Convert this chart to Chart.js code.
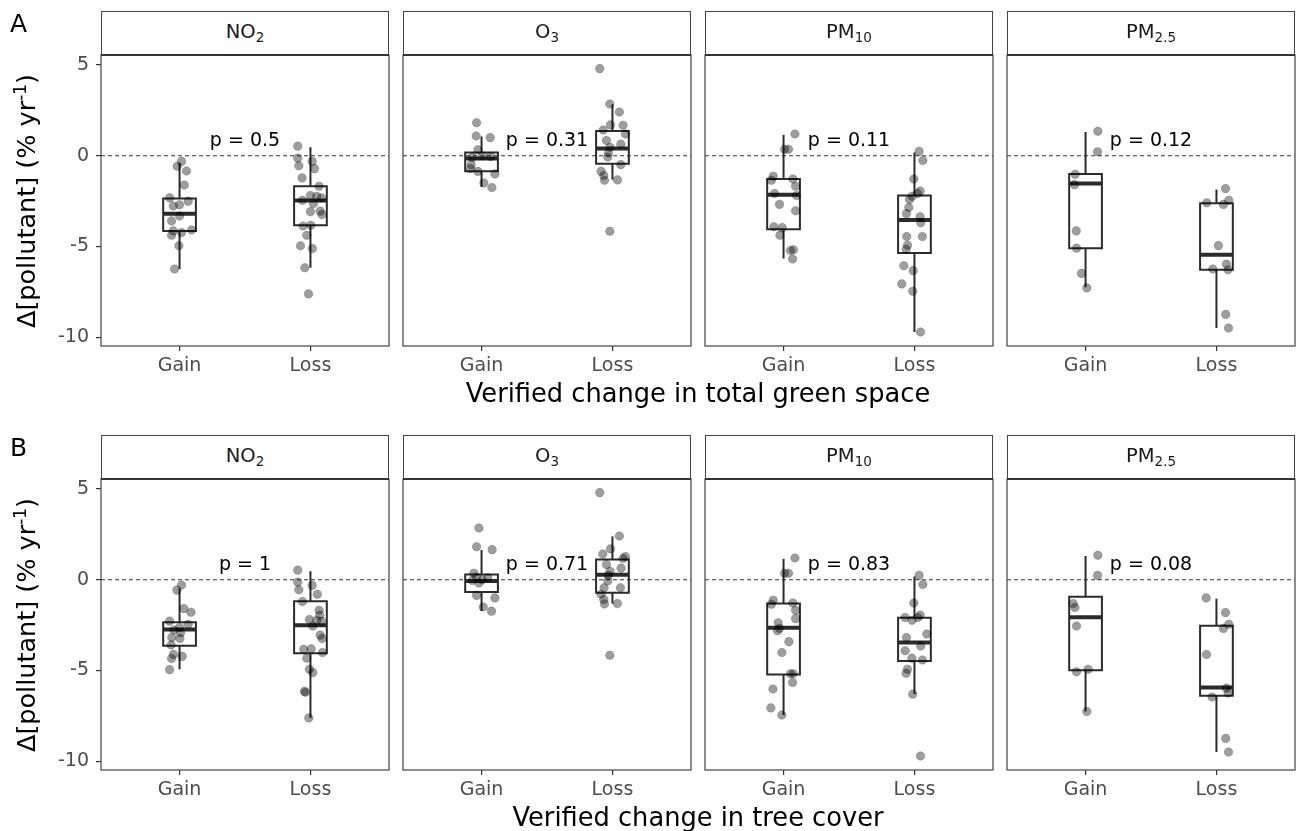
<!DOCTYPE html>
<html><head><meta charset="utf-8">
<script src="https://cdn.jsdelivr.net/npm/chart.js@4.4.0/dist/chart.umd.min.js"></script>
<style>
body{margin:0;width:1297px;height:831px;background:#fff;position:relative;overflow:hidden;font-family:"DejaVu Sans",sans-serif;}
.strip{position:absolute;box-sizing:border-box;border:1px solid #444;border-bottom:2px solid #333;background:#fff;text-align:center;font-size:19.5px;color:#1a1a1a;line-height:40px;z-index:2;}
.strip sub{font-size:13.5px;vertical-align:-4px;line-height:0;}
.ttl{position:absolute;white-space:nowrap;font-size:25.7px;color:#000;transform:translate(-50%,-50%);line-height:30px;}
.ytl{position:absolute;white-space:nowrap;font-size:25.5px;color:#000;transform:translate(-50%,-50%) rotate(-90deg);line-height:30px;}
.ytl sup{font-size:17px;vertical-align:9px;line-height:0;}
.tag{position:absolute;font-size:25px;color:#000;line-height:30px;}
.wrap{position:absolute;}
</style>
</head><body>
<script>
// ---------- data ----------
const categories = ['Gain', 'Loss'];
const pollutantNames = [['NO','2'], ['O','3'], ['PM','10'], ['PM','2.5']];
const rowTags = ['A', 'B'];
const xTitles = ['Verified change in total green space', 'Verified change in tree cover'];
const pLabelsA = ['0.5', '0.31', '0.11', '0.12'];
const pLabelsB = ['1', '0.71', '0.83', '0.08'];
const yTicks = [-10, -5, 0, 5];

// Row A: total green space  (values, jitter offsets in category units, box stats [lo,q1,median,q3,hi])
const A_NO2_Gain = [-0.31,-0.58,-0.84,-1.61,-2.32,-2.50,-2.77,-2.70,-3.32,-3.59,-4.09,-4.14,-4.23,-4.38,-4.96,-6.24];
const jA_NO2_Gain = [0.015,-0.018,0.053,0.036,-0.076,0.066,-0.048,0,0,-0.061,0.092,-0.048,0.015,-0.061,-0.005,-0.038];
const bA_NO2_Gain = [-6.24,-4.14,-3.19,-2.35,-0.40];
const A_NO2_Loss = [0.53,-0.13,-0.31,-0.55,-0.71,-1.22,-1.68,-2.19,-2.23,-2.32,-2.45,-2.63,-3.05,-3.08,-3.23,-3.83,-3.87,-4.38,-4.96,-5.11,-6.17,-7.61];
const jA_NO2_Loss = [-0.097,-0.097,0.013,-0.089,0.031,-0.064,0.066,0,0.048,0.084,-0.061,0.023,0.074,0,0.089,0.003,-0.056,-0.028,-0.076,0.015,-0.043,-0.015];
const bA_NO2_Loss = [-6.17,-3.83,-2.46,-1.68,0.47];

const A_O3_Gain = [1.82,1.09,1.00,0.33,0,-0.09,-0.04,-0.49,-0.71,-0.86,-1.00,-1.50,-1.75];
const jA_O3_Gain = [-0.038,-0.041,0.066,-0.028,0.005,-0.071,0.069,-0.079,-0.084,-0.028,0.102,0.018,0.079];
const bA_O3_Gain = [-1.72,-0.86,-0.15,0.18,1.06];
const A_O3_Loss = [4.80,2.85,2.41,1.70,1.68,1.42,1.20,0.84,0.64,0.47,0.15,-0.07,-0.49,-0.86,-1.09,-1.35,-1.33,-4.16];
const jA_O3_Loss = [-0.097,-0.020,0.053,-0.015,0.081,-0.071,0.099,-0.046,0.064,-0.018,-0.031,-0.036,0.064,-0.087,-0.066,-0.061,0.038,-0.020];
const bA_O3_Loss = [-1.31,-0.44,0.40,1.37,2.83];

const A_PM10_Gain = [1.20,0.36,0.36,-1.13,-1.28,-1.35,-1.68,-2.08,-2.19,-2.68,-3.03,-3.91,-3.96,-4.38,-5.22,-5.18,-5.69];
const jA_PM10_Gain = [0.087,0.008,0.038,-0.079,0.071,-0.092,0.092,-0.069,0.099,-0.031,0.092,-0.074,-0.010,-0.028,0.053,0.076,0.069];
const bA_PM10_Gain = [-5.66,-4.05,-2.15,-1.28,1.15];
const A_PM10_Loss = [0.24,-0.26,-1.28,-1.95,-2.08,-2.23,-2.41,-2.85,-3.19,-3.36,-3.69,-4.45,-4.45,-4.93,-5.15,-6.06,-6.33,-7.06,-7.46,-9.71];
const jA_PM10_Loss = [0.036,0.064,-0.005,0.043,0.023,-0.018,-0.038,-0.043,-0.061,0.043,0.048,-0.059,0.061,-0.053,-0.064,-0.081,-0.010,-0.097,-0.013,0.046];
const bA_PM10_Loss = [-9.71,-5.36,-3.54,-2.19,0.18];

const A_PM25_Gain = [1.35,0.22,-1.02,-1.59,-4.14,-5.09,-6.48,-7.28];
const jA_PM25_Gain = [0.094,0.092,-0.079,-0.084,-0.071,-0.069,-0.031,0.010];
const bA_PM25_Gain = [-7.24,-5.09,-1.53,-1.00,1.31];
const A_PM25_Loss = [-1.81,-2.45,-2.59,-2.68,-4.95,-5.97,-6.24,-6.28,-8.74,-9.49];
const jA_PM25_Loss = [0.069,0.094,-0.074,0.053,0.015,0.076,-0.028,0.089,0.071,0.092];
const bA_PM25_Loss = [-9.49,-6.28,-5.46,-2.61,-1.86];

// Row B: tree cover
const B_NO2_Gain = [-0.29,-0.57,-1.59,-1.79,-2.28,-2.45,-2.63,-2.77,-2.92,-3.18,-3.23,-3.59,-4.11,-4.22,-4.34,-4.95];
const jB_NO2_Gain = [0.015,-0.020,0.033,0.087,-0.076,0.066,0,-0.043,0.008,-0.059,0.003,-0.064,-0.046,0.020,-0.061,-0.076];
const bB_NO2_Gain = [-4.93,-3.63,-2.74,-2.34,-0.49];
const B_NO2_Loss = [0.53,-0.13,-0.31,-0.55,-0.80,-1.20,-1.68,-1.95,-2.19,-2.23,-2.28,-2.55,-3.05,-3.23,-3.83,-3.81,-4.01,-4.32,-4.93,-5.11,-6.15,-6.20,-7.61];
const jB_NO2_Loss = [-0.097,-0.097,0.013,-0.089,0.053,-0.061,0.066,0.071,-0.008,0.048,0.084,0.018,0.074,0.089,-0.051,0.005,0.092,-0.028,-0.008,0.018,-0.046,-0.038,-0.013];
const bB_NO2_Loss = [-7.61,-4.05,-2.50,-1.19,0.47];

const B_O3_Gain = [2.85,1.82,1.66,0.36,0.15,0,0.11,-0.18,-0.04,-0.86,-1.00,-1.50,-1.73];
const jB_O3_Gain = [-0.020,-0.038,0.081,-0.059,-0.038,0.005,0.048,-0.020,-0.071,-0.038,0.102,0.013,0.076];
const bB_O3_Gain = [-1.72,-0.68,-0.07,0.29,1.64];
const B_O3_Loss = [4.80,2.41,1.70,1.42,1.28,1.17,0.84,0.64,0.47,0.24,-0.07,-0.44,-0.44,-0.80,-1.09,-1.33,-1.31,-4.16];
const jB_O3_Loss = [-0.097,0.053,-0.015,-0.074,0.099,0.081,-0.046,0.066,-0.018,-0.031,-0.036,-0.064,0.061,-0.087,-0.066,-0.061,0.038,-0.020];
const bB_O3_Loss = [-1.31,-0.71,0.27,1.11,2.39];

const B_PM10_Gain = [1.20,0.36,0.36,-1.13,-1.28,-1.35,-1.68,-2.14,-2.37,-2.68,-2.81,-3.41,-4.01,-5.18,-5.18,-5.66,-6.02,-7.06,-7.45];
const jB_PM10_Gain = [0.087,0.008,0.038,-0.079,0.071,-0.092,0.092,0.092,-0.041,-0.031,-0.046,0.041,-0.013,0.053,0.074,0.069,-0.081,-0.097,-0.013];
const bB_PM10_Gain = [-7.45,-5.22,-2.65,-1.31,1.15];
const B_PM10_Loss = [0.24,-0.26,-1.28,-2.08,-1.95,-2.23,-2.08,-2.99,-3.18,-3.65,-3.91,-4.32,-4.42,-4.93,-5.15,-6.30,-9.71];
const jB_PM10_Loss = [0.036,0.064,-0.005,-0.071,0.043,-0.018,0.025,0.094,-0.061,0.048,-0.071,-0.020,0.061,-0.053,-0.064,-0.013,0.046];
const bB_PM10_Loss = [-6.30,-4.47,-3.45,-2.10,0.18];

const B_PM25_Gain = [1.35,0.24,-1.31,-1.53,-2.55,-5.07,-4.93,-7.26];
const jB_PM25_Gain = [0.094,0.092,-0.094,-0.081,-0.069,-0.069,0.020,0.010];
const bB_PM25_Gain = [-7.26,-4.98,-2.06,-0.93,1.31];
const B_PM25_Loss = [-1.00,-1.81,-2.45,-2.68,-4.12,-5.97,-6.24,-6.46,-8.74,-9.49];
const jB_PM25_Loss = [-0.079,0.069,0.094,0.053,-0.076,0.076,0.089,-0.033,0.071,0.092];
const bB_PM25_Loss = [-9.49,-6.39,-5.93,-2.54,-1.04];

// ---------- layout / style ----------
const PANEL_LEFT = [101, 403, 705, 1007];
const PANEL_W = 288;
const ROW_TOP = [55, 479];
const PANEL_H = 291;
const STRIP_TOP = [11, 435];
const PAD = 20;
const XAX_H = 42;
const Y_MIN = -10.48, Y_MAX = 5.55;
const X_MIN = 0.4, X_MAX = 2.6;
const BOX_HW = 0.125;
const P_LABEL_X = 1.5, P_LABEL_Y = 0.55;

Chart.defaults.font.family = "'DejaVu Sans', sans-serif";

const rowsData = [
  [[[A_NO2_Gain,jA_NO2_Gain,bA_NO2_Gain],[A_NO2_Loss,jA_NO2_Loss,bA_NO2_Loss]],
   [[A_O3_Gain,jA_O3_Gain,bA_O3_Gain],[A_O3_Loss,jA_O3_Loss,bA_O3_Loss]],
   [[A_PM10_Gain,jA_PM10_Gain,bA_PM10_Gain],[A_PM10_Loss,jA_PM10_Loss,bA_PM10_Loss]],
   [[A_PM25_Gain,jA_PM25_Gain,bA_PM25_Gain],[A_PM25_Loss,jA_PM25_Loss,bA_PM25_Loss]]],
  [[[B_NO2_Gain,jB_NO2_Gain,bB_NO2_Gain],[B_NO2_Loss,jB_NO2_Loss,bB_NO2_Loss]],
   [[B_O3_Gain,jB_O3_Gain,bB_O3_Gain],[B_O3_Loss,jB_O3_Loss,bB_O3_Loss]],
   [[B_PM10_Gain,jB_PM10_Gain,bB_PM10_Gain],[B_PM10_Loss,jB_PM10_Loss,bB_PM10_Loss]],
   [[B_PM25_Gain,jB_PM25_Gain,bB_PM25_Gain],[B_PM25_Loss,jB_PM25_Loss,bB_PM25_Loss]]]
];
const pLabels = [pLabelsA, pLabelsB];

const framePlugin = {
  id: 'frame',
  afterDraw(chart) {
    const a = chart.chartArea, ctx = chart.ctx;
    ctx.save();
    ctx.strokeStyle = '#444';
    ctx.lineWidth = 1.2;
    ctx.strokeRect(a.left, a.top, a.right - a.left, a.bottom - a.top);
    ctx.restore();
  }
};
const pLabelPlugin = {
  id: 'plabel',
  afterDatasetsDraw(chart, args, opts) {
    const ctx = chart.ctx, x = chart.scales.x, y = chart.scales.y;
    ctx.save();
    ctx.font = "19px 'DejaVu Sans', sans-serif";
    ctx.fillStyle = '#000';
    ctx.textAlign = 'center';
    ctx.textBaseline = 'alphabetic';
    ctx.fillText(opts.text, x.getPixelForValue(P_LABEL_X), y.getPixelForValue(P_LABEL_Y));
    ctx.restore();
  }
};

function seg(pts, w, cap) {
  return {
    type: 'scatter', showLine: true, order: 1,
    data: pts.map(p => ({x: p[0], y: p[1]})),
    borderColor: '#2b2b2b', borderWidth: w, pointRadius: 0,
    borderJoinStyle: 'miter', borderCapStyle: cap || 'butt', fill: false, tension: 0
  };
}

function makePanel(r, c) {
  const L = PANEL_LEFT[c], T = ROW_TOP[r];
  const first = c === 0;
  const wl = first ? 0 : L - PAD;
  const wrap = document.createElement('div');
  wrap.className = 'wrap';
  wrap.style.left = wl + 'px';
  wrap.style.top = (T - PAD) + 'px';
  wrap.style.width = (L + PANEL_W + PAD - wl) + 'px';
  wrap.style.height = (PAD + PANEL_H + XAX_H) + 'px';
  const cv = document.createElement('canvas');
  wrap.appendChild(cv);
  document.body.appendChild(wrap);

  const datasets = [];
  rowsData[r][c].forEach((g, i) => {
    const x0 = i + 1;
    const vals = g[0], jit = g[1], box = g[2];
    const lo = box[0], q1 = box[1], med = box[2], q3 = box[3], hi = box[4];
    datasets.push({
      type: 'scatter', order: 0,
      data: vals.map((v, k) => ({x: x0 + jit[k], y: v})),
      pointRadius: 4.3, backgroundColor: 'rgba(0,0,0,0.38)',
      borderColor: 'rgba(0,0,0,0.18)', borderWidth: 1
    });
    datasets.push(seg([[x0 - BOX_HW, q1], [x0 + BOX_HW, q1], [x0 + BOX_HW, q3], [x0 - BOX_HW, q3], [x0 - BOX_HW, q1]], 2, 'square'));
    datasets.push(seg([[x0, q3], [x0, hi]], 2));
    datasets.push(seg([[x0, lo], [x0, q1]], 2));
    datasets.push(seg([[x0 - BOX_HW, med], [x0 + BOX_HW, med]], 4));
  });
  datasets.push({
    type: 'scatter', showLine: true, order: 2,
    data: [{x: X_MIN, y: 0}, {x: X_MAX, y: 0}],
    borderColor: '#333', borderWidth: 1, borderDash: [4, 3], pointRadius: 0
  });

  new Chart(cv, {
    type: 'scatter',
    data: {datasets},
    plugins: [pLabelPlugin, framePlugin],
    options: {
      responsive: true, maintainAspectRatio: false, animation: false, events: [],
      layout: {padding: {left: first ? 0 : PAD, top: PAD, right: PAD, bottom: 0}},
      plugins: {legend: {display: false}, tooltip: {enabled: false}, plabel: {text: 'p = ' + pLabels[r][c]}},
      scales: {
        x: {
          type: 'linear', min: X_MIN, max: X_MAX,
          afterBuildTicks: s => { s.ticks = categories.map((_, i) => ({value: i + 1})); },
          afterFit: s => { s.height = XAX_H; },
          ticks: {callback: v => categories[Math.round(v) - 1], font: {size: 19}, color: '#4d4d4d', padding: 4, maxRotation: 0, autoSkip: false},
          grid: {drawOnChartArea: false, tickLength: 5, color: '#333', lineWidth: 1.2},
          border: {display: false}
        },
        y: {
          type: 'linear', min: Y_MIN, max: Y_MAX, display: first,
          afterBuildTicks: s => { s.ticks = yTicks.map(v => ({value: v})); },
          afterFit: s => { s.width = first ? PANEL_LEFT[0] : 0; },
          ticks: {callback: v => String(v), font: {size: 19}, color: '#4d4d4d', padding: 7, autoSkip: false},
          grid: {drawOnChartArea: false, tickLength: 5, color: '#333', lineWidth: 1.2},
          border: {display: false}
        }
      }
    }
  });
}

function addDiv(cls, html, styles) {
  const d = document.createElement('div');
  d.className = cls;
  d.innerHTML = html;
  Object.assign(d.style, styles);
  document.body.appendChild(d);
  return d;
}

for (let r = 0; r < 2; r++) {
  for (let c = 0; c < 4; c++) {
    makePanel(r, c);
    const nm = pollutantNames[c];
    addDiv('strip', nm[0] + '<sub>' + nm[1] + '</sub>', {
      left: PANEL_LEFT[c] + 'px', top: STRIP_TOP[r] + 'px', width: PANEL_W + 'px', height: (ROW_TOP[r] - STRIP_TOP[r] + 1) + 'px'
    });
  }
  addDiv('tag', rowTags[r], {left: '10px', top: (STRIP_TOP[r] - 2) + 'px'});
  addDiv('ttl', xTitles[r], {left: ((PANEL_LEFT[0] + PANEL_LEFT[3] + PANEL_W) / 2) + 'px', top: (ROW_TOP[r] + PANEL_H + 47) + 'px'});
  addDiv('ytl', '&Delta;[pollutant] (% yr<sup>-1</sup>)', {left: '26px', top: (ROW_TOP[r] + PANEL_H / 2) + 'px'});
}
</script>
</body></html>
